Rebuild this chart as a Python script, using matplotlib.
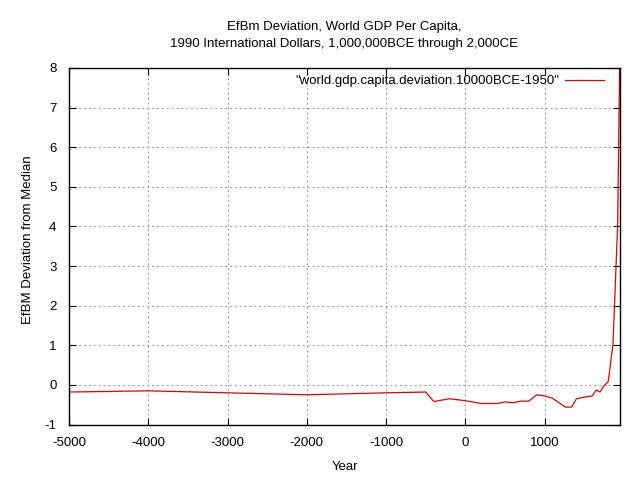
import matplotlib
matplotlib.use('Agg')
import matplotlib.pyplot as plt

plt.rcParams['font.family'] = ['Liberation Sans', 'DejaVu Sans']
plt.rcParams['font.size'] = 9.5
plt.rcParams['axes.unicode_minus'] = False

# year vs deviation
years = [-5000, -4000, -3000, -2000, -1000, -500, -400, -200, 0, 200, 400, 500,
         600, 700, 800, 900, 1000, 1100, 1260, 1340, 1400, 1500, 1600, 1650,
         1700, 1740, 1800, 1820, 1840, 1860, 1880, 1900, 1920, 1940, 1950]
dev = [-0.18, -0.15, -0.2, -0.25, -0.2, -0.18, -0.42, -0.35, -0.4, -0.47, -0.47, -0.43,
       -0.45, -0.41, -0.41, -0.25, -0.28, -0.34, -0.56, -0.56, -0.35, -0.31, -0.28, -0.13,
       -0.18, -0.04, 0.08, 0.36, 0.7, 1.0, 1.95, 3.0, 4.0, 7.2, 8.8]
xticks = [-5000, -4000, -3000, -2000, -1000, 0, 1000]
yticks = [-1, 0, 1, 2, 3, 4, 5, 6, 7, 8]

fig = plt.figure(figsize=(6.4, 4.8), dpi=100)
ax = fig.add_axes([69/640, 55.5/480, 551/640, 356.5/480])
ax.plot(years, dev, color='#e00000', lw=0.9,
        label='"world.gdp.capita.deviation.10000BCE-1950"')
ax.set_xlim(-5000, 1950)
ax.set_ylim(-1, 8)
ax.set_xticks(xticks)
ax.set_yticks(yticks)
ax.tick_params(direction='in', top=True, right=True, length=5, width=0.8, pad=9)
ax.grid(True, color='#999999', ls=(0, (2, 3)), lw=0.7)
for s in ax.spines.values():
    s.set_linewidth(1)
ax.set_xlabel('Year', labelpad=9)
fig.text(28/640, 1 - 240/480, 'EfBM Deviation from Median', rotation=90,
         ha='center', va='center')
fig.text(344/640, 1 - 21/480, 'EfBm Deviation, World GDP Per Capita,\n1990 International Dollars, 1,000,000BCE through 2,000CE',
         ha='center', va='top', linespacing=1.55)
leg = ax.legend(loc='upper right', frameon=False, markerfirst=False, handlelength=2.9,
                bbox_to_anchor=(1 - 11/551, 0.995), borderaxespad=0, handletextpad=0.5)
for t in leg.get_texts():
    t.set_ha('right')
fig.savefig('out.png', dpi=100)
